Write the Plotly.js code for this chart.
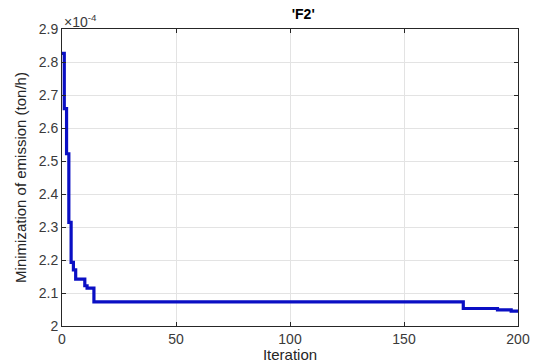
<!DOCTYPE html>
<html>
<head>
<meta charset="utf-8">
<script src="https://cdn.plot.ly/plotly-3.0.1.min.js"></script>
<style>html,body{margin:0;padding:0;background:#fff;}#chart{width:539px;height:363px;}</style>
</head>
<body>
<div id="chart"></div>
<script>
// Iterations at which the best value changes (staircase convergence curve)
const iterations = [0, 1, 2, 3, 4, 5, 6, 10, 11, 14, 176, 191, 197, 200];
// Minimization of emission, in units of 1e-4 ton/h
const emission = [2.826, 2.659, 2.522, 2.314, 2.193, 2.17, 2.142, 2.122, 2.115, 2.073, 2.053, 2.049, 2.045, 2.045];
const yTicks = [2, 2.1, 2.2, 2.3, 2.4, 2.5, 2.6, 2.7, 2.8, 2.9];
const xTicks = [0, 50, 100, 150, 200];

const font = 'Liberation Sans, Arial, sans-serif';
const trace = {
  x: iterations, y: emission, type: 'scatter', mode: 'lines',
  line: {color: '#0a0fc4', width: 3.2, shape: 'hv'}, hoverinfo: 'skip'
};
const layout = {
  width: 539, height: 363,
  margin: {l: 62, r: 21, t: 29, b: 37},
  paper_bgcolor: '#fff', plot_bgcolor: '#fff',
  showlegend: false,
  font: {family: font, color: '#262626'},
  title: {text: "<b>'F2'</b>", font: {family: font, size: 14, color: '#000'}, x: 0.529, xref: 'paper', xanchor: 'center', y: 0.96, yanchor: 'middle'},
  xaxis: {
    range: [0, 200], tickvals: xTicks, ticktext: xTicks.map(String),
    showgrid: true, gridcolor: '#e3e3e3', gridwidth: 1, zeroline: false,
    showline: true, linecolor: '#262626', linewidth: 1, mirror: 'ticks',
    ticks: 'inside', ticklen: 4, tickcolor: '#262626',
    tickfont: {family: font, size: 14, color: '#3a3a3a'},
    title: {text: 'Iteration', font: {family: font, size: 15, color: '#262626'}, standoff: 2}
  },
  yaxis: {
    range: [2, 2.9], tickvals: yTicks, ticktext: yTicks.map(String),
    showgrid: true, gridcolor: '#e3e3e3', gridwidth: 1, zeroline: false,
    showline: true, linecolor: '#262626', linewidth: 1, mirror: 'ticks',
    ticks: 'inside', ticklen: 4, tickcolor: '#262626',
    tickfont: {family: font, size: 14, color: '#3a3a3a'},
    title: {text: 'Minimization of emission (ton/h)', font: {family: font, size: 15, color: '#262626'}, standoff: 8}
  },
  annotations: [{
    text: '×10<sup>-4</sup>', xref: 'paper', yref: 'paper', x: 0, y: 1, xanchor: 'left', yanchor: 'bottom',
    showarrow: false, font: {family: font, size: 14, color: '#3a3a3a'}, xshift: 0, yshift: -3
  }]
};
Plotly.newPlot('chart', [trace], layout, {staticPlot: true, displayModeBar: false});
</script>
</body>
</html>
